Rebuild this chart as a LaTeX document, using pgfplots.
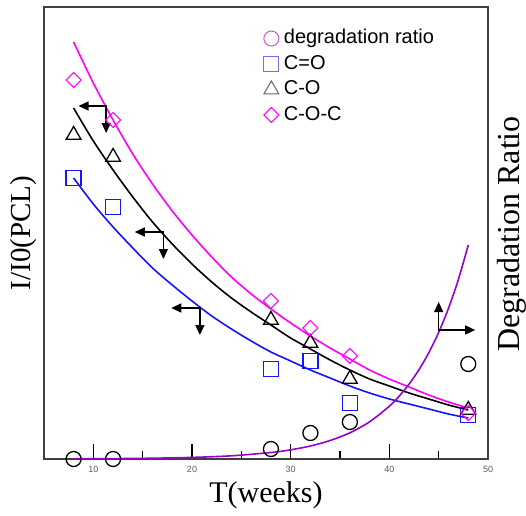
\documentclass[border=0pt]{standalone}
\usepackage{fontspec}
\setmainfont{Liberation Serif}
\newfontfamily\arial{Liberation Sans}
\usepackage{pgfplots}
\pgfplotsset{compat=1.18}
\usetikzlibrary{arrows.meta}
\definecolor{cmag}{RGB}{255,0,255}
\definecolor{cblue}{RGB}{20,20,255}
\definecolor{cpurp}{RGB}{153,0,204}
\definecolor{cleg}{RGB}{200,90,200}
\definecolor{clegb}{RGB}{110,110,255}
\begin{document}
\begin{tikzpicture}
\begin{axis}[
 at={(0,0)}, anchor=south west,
 scale only axis, width=444pt, height=452pt,
 xmin=5, xmax=50, ymin=0, ymax=452,
 xtick={10,20,30,40,50}, minor xtick={15,25,35,45},
 ytick=\empty,
 xtick pos=bottom, xtick align=inside,
 tickwidth=15pt, subtickwidth=8pt,
 major tick length=15pt, minor tick length=8pt,
 every tick/.append style={draw=black, line width=1.4pt},
 axis line style={line width=1.2pt, black!75},
 x tick label style={font=\arial\fontsize{9}{10}\selectfont, text=black!65, yshift=-4pt, /pgf/number format/assume math mode=true},
 clip=false,
 xlabel={T(weeks)},
 xlabel style={at={(axis description cs:0.5,0)}, anchor=center, yshift=-36pt, font=\fontsize{30}{36}\selectfont},
 ylabel={I/I0(PCL)},
 ylabel style={at={(axis description cs:-0.045,0.5)}, anchor=center, font=\fontsize{29}{34}\selectfont},
 legend style={at={(rel axis cs:0.488,0.96)}, anchor=north west, draw=none, fill=none,
   font=\arial\fontsize{20}{24}\selectfont, row sep=3pt, column sep=3pt,
   nodes={inner sep=2pt, text height=14.5pt, text depth=4pt}},
 legend cell align=left,
]
% fitted curves
\addplot[smooth, cmag, line width=1.6pt, forget plot] coordinates {
(8,417) (10,376) (12,339) (14,305) (16,275) (18,248) (20,224) (22,202) (24,182) (26,165) (28,150) (30,136) (32,123) (34,111) (36,100) (38,89) (40,80) (42,72) (44,64) (46,57) (48,51)};
\addplot[smooth, black, line width=1.6pt, forget plot] coordinates {
(8,351) (10,318) (12,289) (14,262) (16,237) (18,215) (20,195) (22,177) (24,161) (26,147) (28,134) (30,121) (32,110) (34,99) (36,89) (38,80) (40,73) (42,66) (44,60) (46,54) (48,49)};
\addplot[smooth, cblue, line width=1.6pt, forget plot] coordinates {
(8,281) (10,255) (12,232) (14,211) (16,191) (18,174) (20,158) (22,143) (24,130) (26,118) (28,107) (30,98) (32,89) (34,81) (36,73) (38,66) (40,60) (42,55) (44,50) (46,45) (48,41)};
\addplot[smooth, cpurp, line width=1.6pt, forget plot] coordinates {
(8,0.2) (12,0.4) (16,0.8) (20,1.6) (24,3.2) (28,6.5) (30,9.2) (32,13) (34,18.5) (36,26.2) (38,37.2) (40,52.8) (41,62.9) (42,74.9) (43,89.2) (44,106.3) (45,126.6) (46,150.8) (47,179.6) (48,214)};
% data points
\addplot[only marks, mark=o, mark size=7.5pt, line width=1.3pt, black, forget plot] coordinates {
(8,0) (12,0) (28,10) (32,26) (36,37) (48,95)};
\addplot[only marks, mark=square, mark size=7.5pt, line width=1.3pt, cblue, forget plot] coordinates {
(8,281) (12,252) (28,90) (32,98) (36,56) (48,44)};
\addplot[only marks, mark=triangle, mark size=8.5pt, line width=1.3pt, black, forget plot] coordinates {
(8,324) (12,302) (28,139) (32,116) (36,80) (48,49)};
\addplot[only marks, mark=square, mark size=5.3pt, mark options={rotate=45}, line width=1.1pt, cmag, forget plot] coordinates {
(8,379) (12,339) (28,158) (32,131) (36,103) (48,46)};
% arrows
\addplot[forget plot, black, line width=1.4pt, sharp plot, {Triangle[length=10pt,width=9pt]}-{Triangle[length=10pt,width=9pt]}] coordinates {(8.5,353) (11.3,353) (11.3,326)};
\addplot[forget plot, black, line width=1.4pt, sharp plot, {Triangle[length=10pt,width=9pt]}-{Triangle[length=10pt,width=9pt]}] coordinates {(14.2,227) (17.1,227) (17.1,200)};
\addplot[forget plot, black, line width=1.4pt, sharp plot, {Triangle[length=10pt,width=9pt]}-{Triangle[length=10pt,width=9pt]}] coordinates {(17.9,151) (20.8,151) (20.8,124)};
\addplot[forget plot, black, line width=1.4pt, sharp plot, {Triangle[length=10pt,width=9pt]}-{Triangle[length=10pt,width=9pt]}] coordinates {(45.0,157) (45.0,129) (48.7,129)};
% legend
\addlegendimage{only marks, mark=o, mark size=7.5pt, line width=1pt, cleg}
\addlegendentry{degradation ratio}
\addlegendimage{only marks, mark=square, mark size=7.5pt, line width=1pt, clegb}
\addlegendentry{C=O}
\addlegendimage{only marks, mark=triangle, mark size=8.5pt, line width=1pt, black!60}
\addlegendentry{C-O}
\addlegendimage{only marks, mark=square, mark size=5.3pt, mark options={rotate=45}, line width=1pt, cmag}
\addlegendentry{C-O-C}
\node[rotate=90, font=\fontsize{32}{38}\selectfont] at (rel axis cs:1.054,0.498) {Degradation Ratio};
\end{axis}
\pgfresetboundingbox
\useasboundingbox (-44pt,-56pt) rectangle (482pt,459pt);
\end{tikzpicture}
\end{document}
